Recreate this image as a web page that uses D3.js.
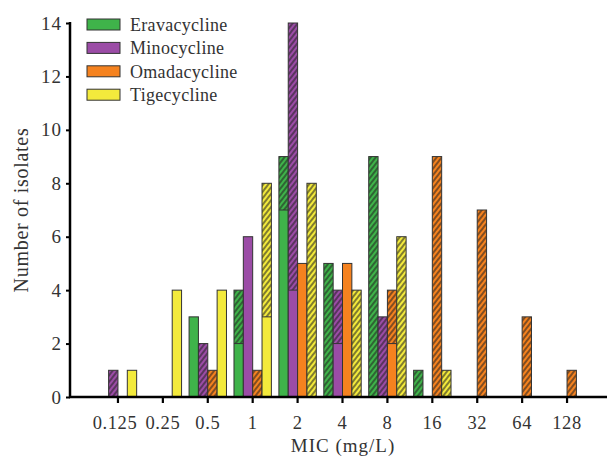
<!DOCTYPE html>
<html>
<head>
<meta charset="utf-8">
<script src="https://cdn.jsdelivr.net/npm/d3@7"></script>
<style>
  body { margin: 0; background: #fff; }
  svg text { font-family: "Liberation Serif", "DejaVu Serif", serif; fill: #333; }
</style>
</head>
<body>
<div class="canvas-graph"></div>
<script>
const micLabels = ['0.125', '0.25', '0.5', '1', '2', '4', '8', '16', '32', '64', '128'];
const drugs = ['Eravacycline', 'Minocycline', 'Omadacycline', 'Tigecycline'];
const drugColors = ['#3fb34a', '#9b4ca6', '#f5821f', '#f3ea3c'];

// solid (lower) part and hatched (upper) part of each bar, per MIC
const solidCounts = {
    Eravacycline: [0, 0, 3, 2, 7, 0, 0, 0, 0, 0, 0],
    Minocycline:  [0, 0, 0, 6, 4, 2, 0, 0, 0, 0, 0],
    Omadacycline: [0, 0, 0, 0, 5, 5, 2, 0, 0, 0, 0],
    Tigecycline:  [1, 4, 4, 3, 0, 0, 0, 0, 0, 0, 0]
};
const hatchCounts = {
    Eravacycline: [0, 0, 0, 2, 2, 5, 9, 1, 0, 0, 0],
    Minocycline:  [1, 0, 2, 0, 10, 2, 3, 0, 0, 0, 0],
    Omadacycline: [0, 0, 1, 1, 0, 0, 2, 9, 7, 3, 1],
    Tigecycline:  [0, 0, 0, 5, 8, 4, 6, 1, 0, 0, 0]
};
const yTicks = [0, 2, 4, 6, 8, 10, 12, 14];

const dims = { width: 611, height: 458 };
const margin = { left: 70, top: 23, bottom: 397, right: 607 };

const svg = d3.select('.canvas-graph')
    .append('svg')
    .attr('width', dims.width)
    .attr('height', dims.height);

const defs = svg.append('defs');
drugs.forEach((d, i) => {
    const p = defs.append('pattern')
        .attr('id', `hatch-${i}`)
        .attr('patternUnits', 'userSpaceOnUse')
        .attr('width', 4)
        .attr('height', 4)
        .attr('patternTransform', 'rotate(38)');
    p.append('rect').attr('width', 4).attr('height', 4).attr('fill', drugColors[i]);
    p.append('line')
        .attr('x1', 1).attr('y1', 0).attr('x2', 1).attr('y2', 4)
        .attr('stroke', '#222').attr('stroke-width', 1.1);
});

const x = d3.scaleBand()
    .domain(micLabels)
    .range([95.5, 589.5]);

const xInner = d3.scaleBand()
    .domain(drugs)
    .range([-18.7, 18.7]);

const y = d3.scaleLinear()
    .domain([0, 14])
    .range([margin.bottom, margin.top]);

const color = d3.scaleOrdinal().domain(drugs).range(drugColors);

// bars
const graph = svg.append('g');
drugs.forEach((drug, di) => {
    micLabels.forEach((mic, mi) => {
        const s = solidCounts[drug][mi];
        const h = hatchCounts[drug][mi];
        if (s + h === 0) return;
        const bx = x(mic) + x.bandwidth() / 2 + xInner(drug);
        const bw = xInner.bandwidth();
        if (s > 0) {
            graph.append('rect')
                .attr('x', bx).attr('width', bw)
                .attr('y', y(s)).attr('height', y(0) - y(s))
                .attr('fill', color(drug));
        }
        if (h > 0) {
            graph.append('rect')
                .attr('x', bx).attr('width', bw)
                .attr('y', y(s + h)).attr('height', y(s) - y(s + h))
                .attr('fill', `url(#hatch-${di})`);
        }
        if (s > 0 && h > 0) {
            graph.append('line')
                .attr('x1', bx).attr('x2', bx + bw)
                .attr('y1', y(s)).attr('y2', y(s))
                .attr('stroke', '#333').attr('stroke-width', 1);
        }
        graph.append('rect')
            .attr('x', bx).attr('width', bw)
            .attr('y', y(s + h)).attr('height', y(0) - y(s + h))
            .attr('fill', 'none')
            .attr('stroke', '#333').attr('stroke-width', 1);
    });
});

// axes
const xAxis = d3.axisBottom(x).tickSize(6).tickPadding(13).tickSizeOuter(0);
const xg = svg.append('g')
    .attr('transform', `translate(0, ${margin.bottom})`)
    .call(xAxis);
xg.select('.domain').remove();
xg.append('line')
    .attr('x1', margin.left - 1).attr('x2', margin.right)
    .attr('stroke', '#000').attr('stroke-width', 2.5);
xg.selectAll('.tick line').attr('stroke', '#000').attr('stroke-width', 2.2);
xg.selectAll('.tick text')
    .attr('font-size', 18.5)
    .attr('letter-spacing', 0.6)
    .attr('dx', d => d === '0.125' ? -3 : 0)
    .style('font-family', '"Liberation Serif", serif')
    .attr('fill', '#333');

const yAxis = d3.axisLeft(y).tickValues(yTicks).tickSize(4).tickPadding(4).tickSizeOuter(0);
const yg = svg.append('g')
    .attr('transform', `translate(${margin.left}, 0)`)
    .call(yAxis);
yg.select('.domain').remove();
yg.append('line')
    .attr('y1', margin.top - 1).attr('y2', margin.bottom + 1)
    .attr('stroke', '#000').attr('stroke-width', 2.5);
yg.selectAll('.tick line').attr('stroke', '#000').attr('stroke-width', 2);
yg.selectAll('.tick text')
    .attr('font-size', 19)
    .attr('letter-spacing', 1)
    .style('font-family', '"Liberation Serif", serif')
    .attr('fill', '#333');

// axis titles
svg.append('text')
    .attr('x', 343).attr('y', 452)
    .attr('text-anchor', 'middle')
    .attr('font-size', 19)
    .attr('letter-spacing', 1)
    .text('MIC (mg/L)');

svg.append('text')
    .attr('transform', `translate(28, ${(margin.top + margin.bottom) / 2}) rotate(-90)`)
    .attr('text-anchor', 'middle')
    .attr('font-size', 20)
    .attr('letter-spacing', 0.7)
    .text('Number of isolates');

// legend
const legendGroup = svg.append('g')
    .attr('transform', 'translate(87, 19)');
drugs.forEach((d, i) => {
    const row = legendGroup.append('g')
        .attr('transform', `translate(0, ${i * 23.4})`);
    row.append('rect')
        .attr('width', 33).attr('height', 11)
        .attr('fill', color(d))
        .attr('stroke', '#333').attr('stroke-width', 1);
    row.append('text')
        .attr('x', 43).attr('y', 12)
        .attr('font-size', 18)
        .attr('letter-spacing', 0.3)
        .text(d);
});
</script>
</body>
</html>
